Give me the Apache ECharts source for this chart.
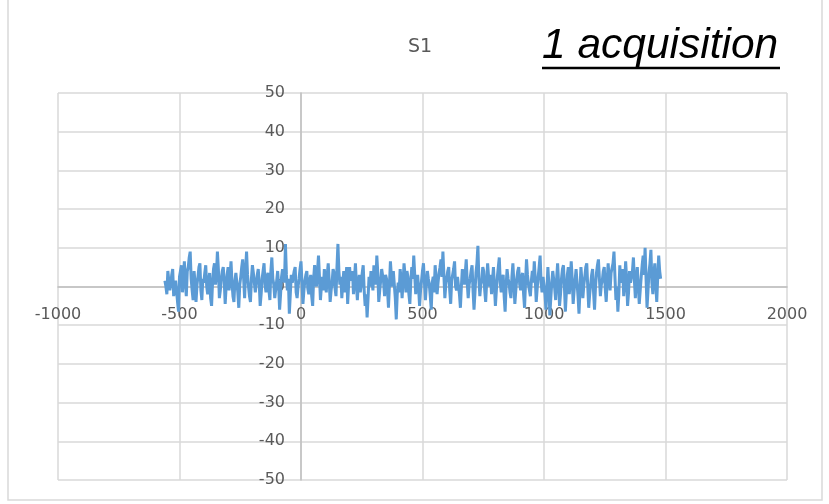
<!DOCTYPE html>
<html>
<head>
<meta charset="utf-8">
<script src="https://cdn.jsdelivr.net/npm/echarts@6/dist/echarts.min.js"></script>
<style>
  html, body { margin: 0; padding: 0; background: #ffffff; }
  #chart { width: 829px; height: 504px; }
</style>
</head>
<body>
<div id="chart"></div>
<script>
// Acquisition sampling: first sample position and spacing between samples
const sampleStart = -560;
const sampleStep = 4;

// S1 signal, one value per sample
const s1Values = [
  1.5, 0.0, -2.0, 4.0, 3.5, -1.0, 0.5, 3.0, 4.5, -2.5, -3.0, 1.5, 2.0, -4.0, -6.5, 2.5,
  3.0, 5.5, -1.5, 2.0, 6.5, 1.0, -2.5, 4.0, 5.0, 7.5, 9.0, 2.0, -1.0, -3.5, 4.0, 1.0,
  -4.0, 0.5, 2.5, 5.0, 6.0, -1.0, -3.5, 2.0, 1.0, 3.5, 5.5, 0.0, -2.0, 1.5, 3.5, -3.0,
  -5.0, 1.0, 4.5, 6.0, 0.5, 3.0, 9.0, 4.5, -3.0, -1.0, 2.0, 4.0, 5.0, 1.5, -4.5, 0.0,
  3.0, 5.0, -1.0, 2.5, 6.5, 1.0, -2.5, -4.0, 1.5, 3.5, 4.0, -1.5, -5.5, 0.5, 2.5, 5.0,
  7.0, 2.0, -3.0, 4.5, 9.0, 3.0, 0.0, -2.5, -4.0, 2.0, 5.5, 3.5, 1.0, -1.5, -2.0, 3.0,
  4.5, 1.0, -5.0, -2.0, 2.0, 4.0, 6.0, 0.5, -1.5, 2.5, 3.5, -1.0, -3.5, 4.0, 7.5, 2.0,
  0.5, -3.0, -2.5, 1.5, 4.0, 0.0, -6.0, -2.0, 2.5, 4.5, 5.0, 1.0, 11.0, 3.0, -1.0, 2.0,
  -7.0, -2.0, 3.0, 1.0, 0.5, 4.0, 5.0, -1.5, -3.0, 0.0, 2.0, 4.5, 6.5, 1.0, -4.5, -1.0,
  1.5, 3.0, 4.0, -0.5, -2.0, 1.5, 3.0, -2.5, -5.0, 2.0, 5.5, 3.0, 0.0, 4.0, 8.0, 2.5,
  -3.5, 0.0, 2.5, -1.0, 4.5, 2.0, -1.5, 3.0, 6.0, 1.5, -4.0, -1.0, 1.0, 4.5, 3.5, -0.5,
  -2.5, 5.0, 11.0, 4.0, 0.5, 2.5, -3.0, 1.0, 4.0, -1.5, 2.0, 5.0, -4.5, 0.5, 5.0, 1.5,
  1.5, 4.0, -2.0, 2.0, 6.0, 0.5, -3.5, 1.0, 3.0, -1.5, 0.5, 3.5, 5.5, -1.0, -5.0, -2.0,
  -8.0, -3.0, 2.5, 0.0, 4.0, 1.5, -1.0, 5.5, 3.0, 0.5, 8.0, 3.5, -4.0, -1.0, 1.5, 4.5,
  5.0, 1.0, -2.5, 3.0, 2.0, -1.0, -5.5, 0.5, 6.5, 2.5, 0.0, 4.0, 3.5, -3.0, -8.5, -2.0,
  1.0, -1.5, 4.5, 2.0, -3.0, 1.0, 6.0, 3.0, -1.5, 4.0, 2.5, -2.0, -4.5, 1.5, 5.0, 2.0,
  8.0, 3.0, -2.0, 1.5, 3.0, -0.5, -5.0, -1.0, 1.5, 4.0, 6.0, 1.0, -3.5, 0.5, 4.0, 2.0,
  0.5, -2.5, -6.0, 1.0, 2.5, -1.5, 5.5, 2.0, -2.0, 1.0, 3.5, 5.0, 7.0, 2.5, 9.0, 3.0,
  -3.0, 0.5, 1.0, 4.0, 5.0, -1.0, -4.5, 1.5, 2.0, 4.5, 6.5, 0.0, -1.0, 2.5, 3.0, -2.0,
  -5.5, 0.0, 4.5, 2.0, 0.5, 3.5, 7.0, 1.0, -3.0, 0.5, 2.0, 4.0, 5.5, -1.0, -6.0, -1.5,
  3.5, 6.0, 10.5, 2.0, -2.5, 0.5, 1.5, 5.0, 4.0, -1.0, -4.0, 1.0, 6.0, 2.5, 0.0, 3.0,
  -2.0, 1.5, 5.0, 0.0, -5.0, -1.0, 2.5, 5.0, 7.5, 1.0, -1.5, 2.0, 3.0, -2.5, -6.5, 0.0,
  4.5, 2.0, 1.0, -1.5, -3.0, 2.5, 6.0, 1.0, -4.5, -1.0, 2.0, 4.0, 5.0, 0.5, -1.0, 2.5,
  3.5, -2.0, -5.5, 1.0, 7.0, 3.0, 0.5, -1.0, -2.5, 1.5, 4.0, 1.0, 6.5, 2.0, -4.0, -0.5,
  2.5, 5.0, 8.0, 1.0, -1.5, 2.5, 3.0, -2.0, -6.0, -1.0, 5.0, 0.5, -7.5, -3.0, 1.0, 4.0,
  4.5, -0.5, -3.5, 2.0, 6.0, 1.0, -5.0, -2.0, 2.0, 4.5, 5.5, 0.0, -6.5, -1.5, 3.0, 5.0,
  -2.0, 1.0, 6.5, 2.0, -4.5, -1.0, 1.5, 4.5, 4.0, -2.5, -7.0, -1.0, 5.0, 1.5, -3.0, 0.5,
  2.5, 5.0, 6.0, 0.0, -5.5, -2.0, 0.5, 3.0, 4.5, -1.5, -6.0, 0.0, 3.5, 5.5, 7.0, 2.0,
  -2.5, 0.5, 1.5, 4.0, 5.0, -0.5, -4.0, 1.5, 6.0, 2.0, -1.0, 3.5, 3.0, 6.0, 9.0, 2.5,
  -3.5, 0.0, -6.5, -2.0, 5.5, 1.0, 2.0, 4.5, -2.5, 1.0, 6.5, 2.0, -5.0, -1.5, 4.0, 1.0,
  0.5, 4.0, 7.5, 1.5, -3.0, 2.0, 5.0, 0.0, -4.5, -1.0, 2.5, 5.5, 8.0, 3.0, 10.0, 2.0,
  -5.5, -1.0, 3.5, 6.0, 9.5, 1.0, -2.0, 3.0, 6.0, 0.5, -4.0, 2.5, 8.0, 4.0, 2.0
];

// Axis ranges
const xMin = -1000, xMax = 2000, xInterval = 500;
const yMin = -50, yMax = 50, yInterval = 10;

const seriesName = 'S1';
const headline = '1 acquisition';

const points = s1Values.map((v, i) => [sampleStart + i * sampleStep, v]);

const labelColor = '#595959';
const gridColor = '#d9d9d9';
const axisColor = '#bfbfbf';

// Plot area in pixels; the axes are shifted so that they cross at (0, 0)
const plot = { left: 58, right: 42, top: 93, bottom: 24 };
const plotW = 829 - plot.left - plot.right;
const plotH = 504 - plot.top - plot.bottom;
const yAxisShift = plotW * (0 - xMin) / (xMax - xMin);
const xAxisShift = plotH * (0 - yMin) / (yMax - yMin);

const chart = echarts.init(document.getElementById('chart'), null, { renderer: 'canvas' });

chart.setOption({
  animation: false,
  backgroundColor: '#ffffff',
  grid: { left: plot.left, right: plot.right, top: plot.top, bottom: plot.bottom, containLabel: false },
  xAxis: {
    type: 'value',
    min: xMin, max: xMax, interval: xInterval,
    offset: -xAxisShift,
    axisLine: { onZero: false, lineStyle: { color: axisColor, width: 1.5 } },
    axisTick: { show: false },
    axisLabel: {
      color: labelColor, fontFamily: 'DejaVu Sans', fontSize: 16, margin: 20,
      formatter: v => String(v)
    },
    splitLine: { show: true, lineStyle: { color: gridColor, width: 1.5 } }
  },
  yAxis: {
    type: 'value',
    min: yMin, max: yMax, interval: yInterval,
    offset: -yAxisShift,
    axisLine: { onZero: false, lineStyle: { color: axisColor, width: 1.5 } },
    axisTick: { show: false },
    axisLabel: {
      color: labelColor, fontFamily: 'DejaVu Sans', fontSize: 16, margin: 16,
      formatter: v => String(v)
    },
    splitLine: { show: true, lineStyle: { color: gridColor, width: 1.5 } }
  },
  series: [{
    name: seriesName,
    type: 'line',
    data: points,
    showSymbol: false,
    symbol: 'none',
    lineStyle: { color: '#5b9bd5', width: 3 },
    z: 3
  }],
  graphic: [
    {
      type: 'rect',
      shape: { x: 8, y: -2, width: 814, height: 502 },
      style: { fill: 'none', stroke: gridColor, lineWidth: 1.5 },
      silent: true
    },
    {
      type: 'text',
      left: 408, top: 38,
      style: { text: seriesName, fill: labelColor, font: '19px "DejaVu Sans"' }
    },
    {
      type: 'text',
      left: 542, top: 25,
      style: { text: headline, fill: '#000000', font: 'italic 42.5px "Liberation Sans"' }
    },
    {
      type: 'line',
      shape: { x1: 542, y1: 68, x2: 780, y2: 68 },
      style: { stroke: '#000000', lineWidth: 2.5 }
    }
  ]
});
</script>
</body>
</html>
